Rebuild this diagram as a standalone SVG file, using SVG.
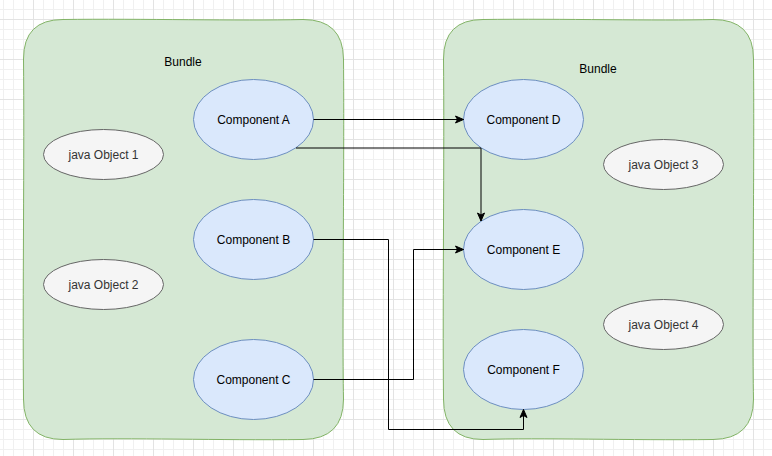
<svg xmlns="http://www.w3.org/2000/svg" width="772" height="456" viewBox="0 0 772 456">
  <defs>
    <pattern id="grid" x="33" y="19" width="40" height="40" patternUnits="userSpaceOnUse">
      <path d="M10.5 0V40M20.5 0V40M30.5 0V40M0 10.5H40M0 20.5H40M0 30.5H40" stroke="#f0f0f0" stroke-width="1" fill="none"/>
      <path d="M0.5 0V40M0 0.5H40" stroke="#e3e3e3" stroke-width="1" fill="none"/>
    </pattern>
    <marker id="arrow" markerUnits="userSpaceOnUse" markerWidth="10" markerHeight="10" refX="9" refY="5" orient="auto" overflow="visible">
      <path d="M1 1.5 L9 5 L1 8.5 L3 5 Z" fill="#000" stroke="#000" stroke-width="1"/>
    </marker>
    <style>
      .bundle { fill: #d5e8d4; stroke: #82b366; stroke-width: 1; }
      .comp { fill: #dae8fc; stroke: #6c8ebf; stroke-width: 1; }
      .obj { fill: #f5f5f5; stroke: #666666; stroke-width: 1; }
      .lbl { font-family: "Liberation Sans", Arial, Helvetica, sans-serif; font-size: 12px; text-anchor: middle; fill: #000; }
      .objlbl { fill: #333333; }
      .edge { fill: none; stroke: #000; stroke-width: 1; }
    </style>
  </defs>
  <rect width="772" height="456" fill="#ffffff"/>
  <rect width="772" height="456" fill="url(#grid)"/>

  <g id="bundle-left">
    <path class="bundle" d="M63 19.5 C140 18.5 240 21 303 19.5 Q343 19.5 343.5 59 C344.5 170 342 320 343.5 399 Q343.5 439 303 439.5 C220 440.5 130 437.5 63 439.5 Q23.5 439.5 23.5 399 C22.5 300 24.5 150 23.5 59 Q23.5 19.5 63 19.5 Z"/>
    <text class="lbl" x="183" y="66">Bundle</text>
  </g>
  <g id="bundle-right">
    <path class="bundle" d="M483 19.5 C560 18.5 660 21 713 19.5 Q753.5 19.5 753.5 59 C754.5 170 752 320 753.5 399 Q753.5 439 713 439.5 C630 440.5 540 437.5 483 439.5 Q443.5 439.5 443.5 399 C442.5 300 444.5 150 443.5 59 Q443.5 19.5 483 19.5 Z"/>
    <text class="lbl" x="598" y="73">Bundle</text>
  </g>

  <g id="java-object-1">
    <ellipse class="obj" cx="103.5" cy="154.5" rx="60" ry="25"/>
    <text class="lbl objlbl" x="103.5" y="158.5">java Object 1</text>
  </g>
  <g id="java-object-2">
    <ellipse class="obj" cx="103.5" cy="284.5" rx="60" ry="25"/>
    <text class="lbl objlbl" x="103.5" y="288.5">java Object 2</text>
  </g>
  <g id="java-object-3">
    <ellipse class="obj" cx="663.5" cy="164.5" rx="60" ry="25"/>
    <text class="lbl objlbl" x="663.5" y="168.5">java Object 3</text>
  </g>
  <g id="java-object-4">
    <ellipse class="obj" cx="663.5" cy="324.5" rx="60" ry="25"/>
    <text class="lbl objlbl" x="663.5" y="328.5">java Object 4</text>
  </g>

  <g id="component-a">
    <ellipse class="comp" cx="253.5" cy="119.5" rx="60" ry="40"/>
    <text class="lbl" x="253.5" y="123.5">Component A</text>
  </g>
  <g id="component-b">
    <ellipse class="comp" cx="253.5" cy="239.5" rx="60" ry="40"/>
    <text class="lbl" x="253.5" y="243.5">Component B</text>
  </g>
  <g id="component-c">
    <ellipse class="comp" cx="253.5" cy="379.5" rx="60" ry="40"/>
    <text class="lbl" x="253.5" y="383.5">Component C</text>
  </g>
  <g id="component-d">
    <ellipse class="comp" cx="523.5" cy="119.5" rx="60" ry="40"/>
    <text class="lbl" x="523.5" y="123.5">Component D</text>
  </g>
  <g id="component-e">
    <ellipse class="comp" cx="523.5" cy="249.5" rx="60" ry="40"/>
    <text class="lbl" x="523.5" y="253.5">Component E</text>
  </g>
  <g id="component-f">
    <ellipse class="comp" cx="523.5" cy="369.5" rx="60" ry="40"/>
    <text class="lbl" x="523.5" y="373.5">Component F</text>
  </g>

  <g id="connectors">
    <path class="edge" marker-end="url(#arrow)" d="M313.5 119.5 L463.5 119.5"/>
    <path class="edge" marker-end="url(#arrow)" d="M296 148 L481 148 L481 221"/>
    <path class="edge" marker-end="url(#arrow)" d="M313.5 239.5 L388.5 239.5 L388.5 429.5 L523.5 429.5 L523.5 409.5"/>
    <path class="edge" marker-end="url(#arrow)" d="M313.5 379.5 L413.5 379.5 L413.5 249.5 L463.5 249.5"/>
  </g>
</svg>
